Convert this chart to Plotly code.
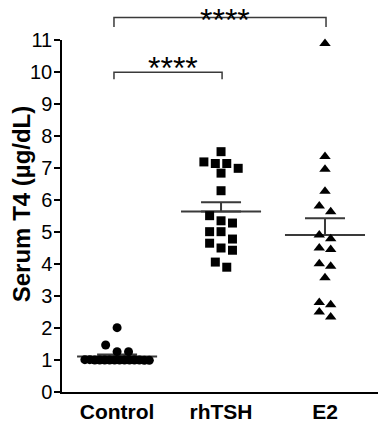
import numpy as np
import plotly.graph_objects as go

# ---------------- data ----------------
categories = ["Control", "rhTSH", "E2"]
control_t4 = [2.01, 1.47, 1.26, 1.26, 1.01, 1.00, 1.00, 1.00, 0.99, 1.00, 1.00,
              1.01, 1.00, 0.99, 1.00, 1.00, 1.00, 1.00]
rhtsh_t4 = [7.51, 7.19, 7.14, 7.14, 6.99, 6.84, 6.29, 5.51, 5.35, 5.28, 5.01,
            5.01, 4.78, 4.65, 4.50, 4.43, 4.06, 3.90]
e2_t4 = [10.89, 7.36, 6.96, 6.27, 5.81, 5.63, 4.91, 4.79, 4.50, 4.45, 4.01,
         3.93, 3.57, 2.80, 2.73, 2.50, 2.34]
y_ticks = list(range(0, 12))
sig_brackets = [("Control", "rhTSH", "****"), ("Control", "E2", "****")]

groups = [control_t4, rhtsh_t4, e2_t4]
symbols = ["circle", "square", "triangle-up"]
sizes = [9, 9, 10]

X_RANGE = [-0.53, 2.51]
Y_RANGE = [0, 11]
FONT = "Liberation Sans, Arial, sans-serif"
LINE_COL = "#3a3a3a"
PLOT_TOP_PX, PLOT_H_PX = 40, 356


def swarm(values, center, row_tol=0.25, step=0.11, max_width=0.62):
    """Deterministic column-scatter layout: points of similar value share a row."""
    vals = np.asarray(values, dtype=float)
    order = np.argsort(-vals, kind="stable")
    xs = np.zeros(len(vals))
    i = 0
    while i < len(order):
        start = vals[order[i]]
        j = i
        while j < len(order) and start - vals[order[j]] < row_tol:
            j += 1
        grp = order[i:j]
        n = len(grp)
        sp = step if n == 1 else min(step, max_width / (n - 1))
        for k, idx in enumerate(grp):
            xs[idx] = center + (k - (n - 1) / 2) * sp
        i = j
    return xs


def xpaper(xv):
    return (xv - X_RANGE[0]) / (X_RANGE[1] - X_RANGE[0])


def ypaper(yv):
    return (yv - Y_RANGE[0]) / (Y_RANGE[1] - Y_RANGE[0])


fig = go.Figure()

for ci, (cat, vals) in enumerate(zip(categories, groups)):
    v = np.asarray(vals, dtype=float)
    mean = v.mean()
    sem = v.std(ddof=1) / np.sqrt(len(v))
    # mean line
    fig.add_trace(go.Scatter(
        x=[ci - 0.385, ci + 0.385], y=[mean, mean], mode="lines",
        line=dict(color=LINE_COL, width=2), hoverinfo="skip", showlegend=False))
    # SEM (upper only)
    fig.add_trace(go.Scatter(
        x=[ci], y=[mean], mode="markers", marker=dict(size=1, opacity=0),
        error_y=dict(type="data", symmetric=False, array=[sem], arrayminus=[0],
                     color=LINE_COL, thickness=2, width=20),
        hoverinfo="skip", showlegend=False))
    # points
    fig.add_trace(go.Scatter(
        x=swarm(vals, ci), y=vals, mode="markers", name=cat,
        marker=dict(symbol=symbols[ci], size=sizes[ci], color="black",
                    line=dict(width=0)),
        cliponaxis=False, showlegend=False))

# significance brackets
top_of_figure = 1 + PLOT_TOP_PX / PLOT_H_PX
bracket_levels = [(9.99, 9.77, ypaper(10.12), "middle"),
                  (11.70, 11.41, top_of_figure, "top")]
for (a, b, txt), (ytop, yleg, ytxt, yanc) in zip(sig_brackets, bracket_levels):
    xa, xb = categories.index(a), categories.index(b)
    pa, pb = xpaper(xa - 0.03), xpaper(xb + 0.01)
    fig.add_shape(type="path",
                  path=f"M {pa} {ypaper(yleg)} L {pa} {ypaper(ytop)} L {pb} {ypaper(ytop)} L {pb} {ypaper(yleg)}",
                  xref="paper", yref="paper", line=dict(color=LINE_COL, width=1.5))
    fig.add_annotation(x=(xa + xb) / 2 + 0.04, y=ytxt, xref="x", yref="paper",
                       text=txt, showarrow=False, xanchor="center", yanchor=yanc,
                       font=dict(family=FONT, size=32, color="black"))

# y-axis title
fig.add_annotation(x=-0.128, y=0.535, xref="paper", yref="paper",
                   text="<b>Serum T4 (µg/dL)</b>", textangle=-90, showarrow=False,
                   xanchor="center", yanchor="middle",
                   font=dict(family=FONT, size=24, color="black"))

fig.update_layout(
    width=379, height=424,
    margin=dict(l=62, r=1, t=PLOT_TOP_PX, b=28),
    paper_bgcolor="white", plot_bgcolor="white",
    xaxis=dict(range=X_RANGE, tickvals=[0, 1, 2], ticktext=categories,
               showline=True, linecolor="black", linewidth=1.5, ticks="",
               showgrid=False, zeroline=False,
               tickfont=dict(family=FONT, size=21, color="black", weight="bold")),
    yaxis=dict(range=Y_RANGE, tickvals=y_ticks, ticktext=[str(t) for t in y_ticks],
               showline=True, linecolor="black", linewidth=1.5,
               ticks="outside", ticklen=6, tickwidth=1.5, tickcolor="black",
               ticklabelstandoff=-2,
               showgrid=False, zeroline=False,
               tickfont=dict(family=FONT, size=20, color="black")),
)

fig.write_html("out.html", config={"displayModeBar": False},
               post_script="document.body.style.margin='0';document.body.style.overflow='hidden';")
